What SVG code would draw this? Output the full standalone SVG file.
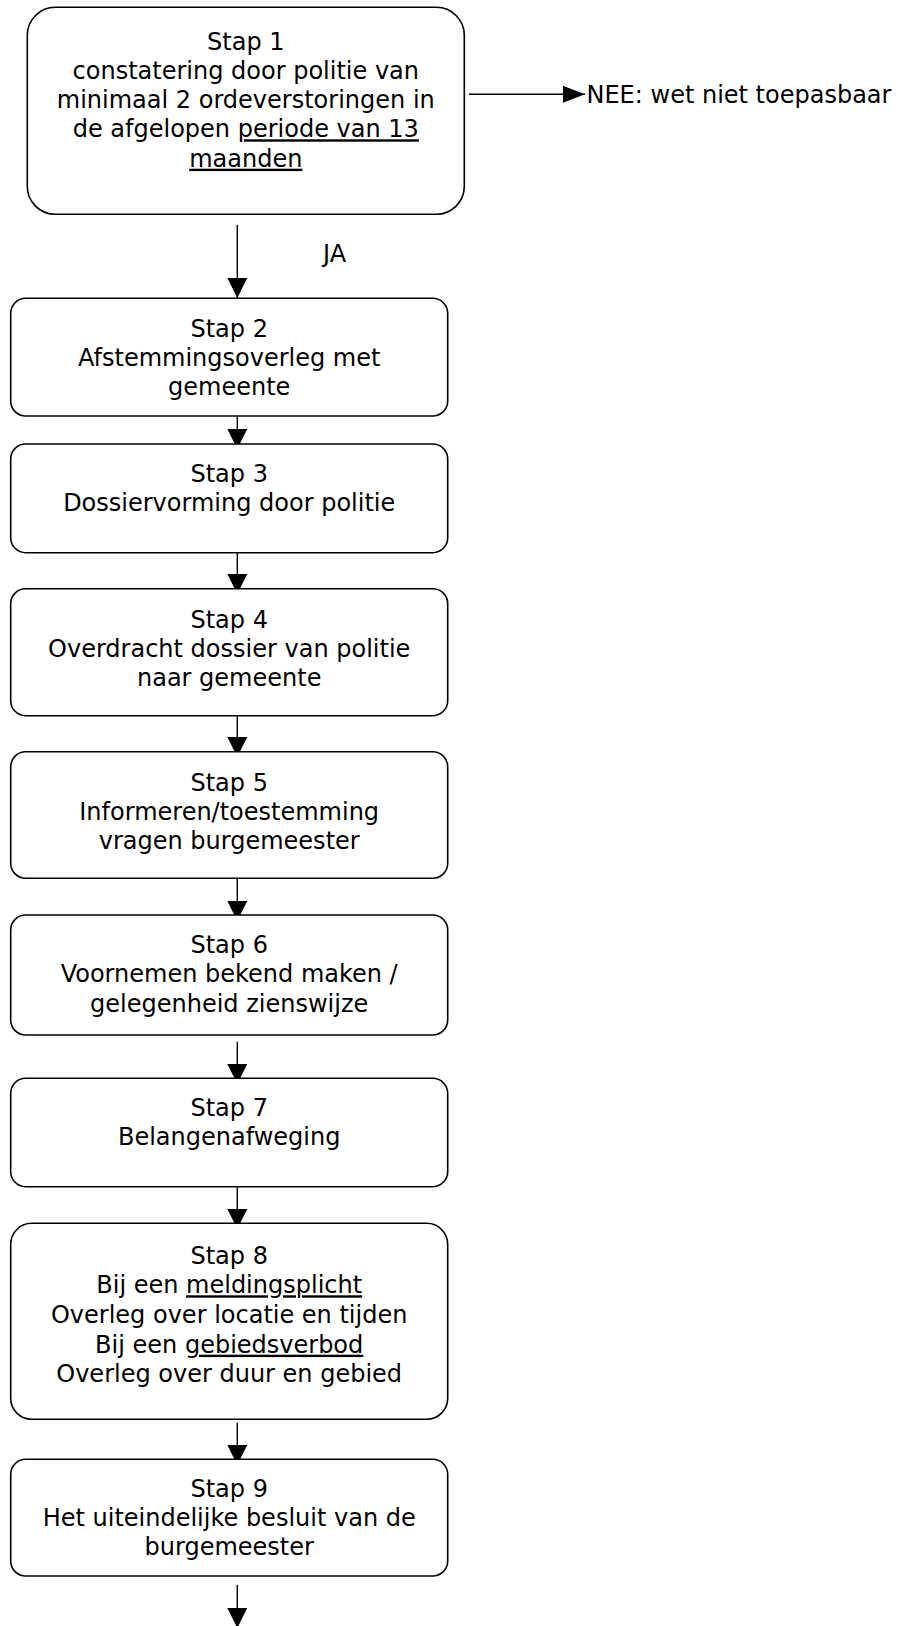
<svg xmlns="http://www.w3.org/2000/svg" width="906" height="1626" viewBox="0 0 906 1626">
<style>
.box{fill:#fff;stroke:#000;stroke-width:1.6}
.t{font-family:"DejaVu Sans",Verdana,sans-serif;font-size:24px;fill:#000}
.c{text-anchor:middle}
.u{text-decoration:underline}
.ln{stroke:#000;stroke-width:1.4;fill:none}
</style>
<defs>
<marker id="ah" viewBox="0 0 20 20" markerWidth="20" markerHeight="20" refX="20" refY="10" orient="auto" markerUnits="userSpaceOnUse">
<path d="M0,0 L20,10 L0,20 Z" fill="#000"/>
</marker>
<marker id="ah2" viewBox="0 0 22 17" markerWidth="22" markerHeight="17" refX="22" refY="8.5" orient="auto" markerUnits="userSpaceOnUse">
<path d="M0,0 L22,8.5 L0,17 Z" fill="#000"/>
</marker>
</defs>
<rect width="906" height="1626" fill="#fff"/>

<g id="connectors">
<line class="ln" x1="237.3" y1="225" x2="237.3" y2="298" marker-end="url(#ah)"/>
<line class="ln" x1="469" y1="94.3" x2="585" y2="94.3" marker-end="url(#ah2)"/>
<line class="ln" x1="237.3" y1="407" x2="237.3" y2="449" marker-end="url(#ah)"/>
<line class="ln" x1="237.3" y1="553" x2="237.3" y2="594" marker-end="url(#ah)"/>
<line class="ln" x1="237.3" y1="716" x2="237.3" y2="757" marker-end="url(#ah)"/>
<line class="ln" x1="237.3" y1="879" x2="237.3" y2="921" marker-end="url(#ah)"/>
<line class="ln" x1="237.3" y1="1041.7" x2="237.3" y2="1084" marker-end="url(#ah)"/>
<line class="ln" x1="237.3" y1="1187" x2="237.3" y2="1229" marker-end="url(#ah)"/>
<line class="ln" x1="237.3" y1="1422.7" x2="237.3" y2="1465" marker-end="url(#ah)"/>
<line class="ln" x1="237.3" y1="1585" x2="237.3" y2="1628" marker-end="url(#ah)"/>
</g>

<g id="stap1">
<rect class="box" x="27.3" y="7.3" width="437" height="207" rx="28" ry="28"/>
<text class="t c" x="245.8" y="50">Stap 1</text>
<text class="t c" x="245.8" y="79.3">constatering door politie van</text>
<text class="t c" x="245.8" y="108.3">minimaal 2 ordeverstoringen in</text>
<text class="t c" x="245.8" y="137.3">de afgelopen <tspan class="u">periode van 13</tspan></text>
<text class="t c u" x="245.8" y="166.7">maanden</text>
</g>

<g id="nee">
<text class="t" x="586.5" y="103">NEE: wet niet toepasbaar</text>
</g>

<g id="ja">
<text class="t" x="323" y="262">JA</text>
</g>

<g id="stap2">
<rect class="box" x="10.7" y="298.3" width="437" height="117.7" rx="15" ry="15"/>
<text class="t c" x="229.2" y="336.7">Stap 2</text>
<text class="t c" x="229.2" y="366">Afstemmingsoverleg met</text>
<text class="t c" x="229.2" y="395">gemeente</text>
</g>

<g id="stap3">
<rect class="box" x="10.7" y="444" width="437" height="108.7" rx="15" ry="15"/>
<text class="t c" x="229.2" y="482.3">Stap 3</text>
<text class="t c" x="229.2" y="510.7">Dossiervorming door politie</text>
</g>

<g id="stap4">
<rect class="box" x="10.7" y="588.7" width="437" height="127" rx="15" ry="15"/>
<text class="t c" x="229.2" y="628.3">Stap 4</text>
<text class="t c" x="229.2" y="656.7">Overdracht dossier van politie</text>
<text class="t c" x="229.2" y="685.7">naar gemeente</text>
</g>

<g id="stap5">
<rect class="box" x="10.7" y="751.7" width="437" height="126.6" rx="15" ry="15"/>
<text class="t c" x="229.2" y="790.7">Stap 5</text>
<text class="t c" x="229.2" y="820">Informeren/toestemming</text>
<text class="t c" x="229.2" y="849">vragen burgemeester</text>
</g>

<g id="stap6">
<rect class="box" x="10.7" y="915" width="437" height="120" rx="15" ry="15"/>
<text class="t c" x="229.2" y="953.3">Stap 6</text>
<text class="t c" x="229.2" y="982.3">Voornemen bekend maken /</text>
<text class="t c" x="229.2" y="1011.7">gelegenheid zienswijze</text>
</g>

<g id="stap7">
<rect class="box" x="10.7" y="1078.3" width="437" height="108.4" rx="15" ry="15"/>
<text class="t c" x="229.2" y="1116">Stap 7</text>
<text class="t c" x="229.2" y="1145">Belangenafweging</text>
</g>

<g id="stap8">
<rect class="box" x="10.7" y="1223.3" width="437" height="196" rx="21" ry="21"/>
<text class="t c" x="229.2" y="1264">Stap 8</text>
<text class="t c" x="229.2" y="1293.3">Bij een <tspan class="u">meldingsplicht</tspan></text>
<text class="t c" x="229.2" y="1322.7">Overleg over locatie en tijden</text>
<text class="t c" x="229.2" y="1352.7">Bij een <tspan class="u">gebiedsverbod</tspan></text>
<text class="t c" x="229.2" y="1381.7">Overleg over duur en gebied</text>
</g>

<g id="stap9">
<rect class="box" x="10.7" y="1459.3" width="437" height="116.7" rx="15" ry="15"/>
<text class="t c" x="229.2" y="1496.7">Stap 9</text>
<text class="t c" x="229.2" y="1526">Het uiteindelijke besluit van de</text>
<text class="t c" x="229.2" y="1555">burgemeester</text>
</g>
</svg>
